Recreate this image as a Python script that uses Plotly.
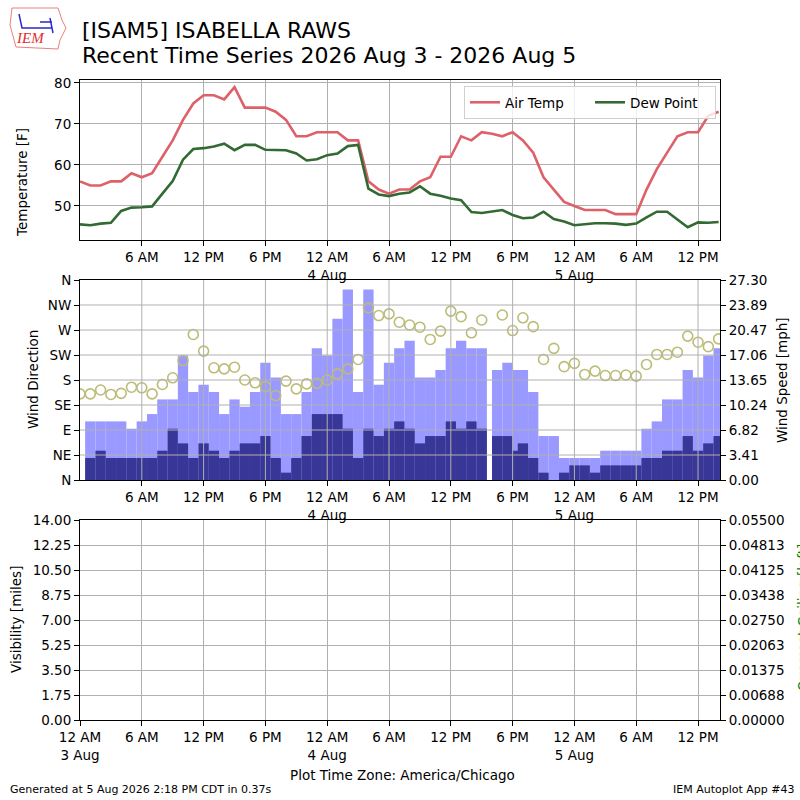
import pandas as pd
import plotly.graph_objects as go

# ISAM5 hourly obs, local time (America/Chicago)
OBS_START = "2026-08-03 00:00"
X_RANGE = ["2026-08-03 00:00", "2026-08-05 14:08"]

air_temp = [56, 55, 55, 56, 56, 58, 57, 58, 62, 66,
            71, 75, 77, 77, 76, 79, 74, 74, 74, 73,
            71, 67, 67, 68, 68, 68, 66, 66, 56, 54,
            53, 54, 54, 56, 57, 62, 62, 67, 66, 68,
            67.6, 67, 68, 66, 63, 57, 54, 51, 50, 49,
            49, 49, 48, 48, 48, 54, 59, 63, 67, 68,
            68, 72, 73]
dew_point = [45.5, 45.3, 45.7, 45.9, 48.8, 49.6, 49.7, 49.9, 53.0, 56.1,
             61.3, 63.9, 64.1, 64.5, 65.2, 63.6, 64.9, 64.9, 63.7, 63.6,
             63.6, 62.8, 61.1, 61.4, 62.4, 62.8, 64.6, 64.9, 54.2, 52.8,
             52.4, 53.0, 53.3, 54.8, 53.0, 52.5, 51.8, 51.4, 48.5, 48.3,
             48.6, 49.0, 47.8, 47.0, 47.2, 48.6, 46.8, 46.2, 45.3, 45.5,
             45.8, 45.8, 45.7, 45.4, 45.7, 47.2, 48.6, 48.6, 46.7, 44.8,
             46.0, 45.9, 46.1]
wind_dir = [155, 155, 162, 154, 156, 167, 166, 155, 172, 184,
            215, 262, 232, 202, 200, 203, 180, 175, 168, 152,
            178, 164, 173, 174, 180, 191, 200, 217, 310, 296,
            299, 284, 279, 275, 253, 268, 304, 294, 265, 288,
            None, 297, 269, 292, 276, 217, 237, 204, 210, 190,
            196, 188, 188, 189, 187, 208, 226, 226, 230, 259,
            248, 240, 254]

# wind bars (one per report)
gust_mph = [8, 8, 8, 8, 7, 8, 9, 11, 11, 17, 12, 13, 12, 9, 11, 10, 12, 16, 14, 9,
            9, 12, 18, 17, 22, 26, 12, 26, 13, 16, 18, 19, 14, 14, 15, 18, 19, 18, 18,
            15, 16, 15,
            15, 12, 6, 6, 3, 3, 3, 3, 4, 4, 4, 4, 7, 8, 11, 11, 15, 14, 17, 18]
speed_mph = [3, 4, 3, 3, 3, 3, 3, 4, 7, 5, 3, 5, 4, 3, 4, 5, 5, 6, 3, 1,
             3, 6, 9, 9, 9, 7, 3, 7, 6, 7, 8, 7, 5, 6, 6, 8, 7, 8, 7,
             6, 6, 4,
             5, 3, 1, 0, 1, 2, 2, 1, 2, 2, 2, 2, 3, 3, 4, 4, 6, 4, 5, 6]

obs_times = pd.date_range(OBS_START, periods=len(air_temp), freq="h")
bar_times = (
    list(pd.date_range("2026-08-03 01:00", "2026-08-04 15:00", freq="h"))
    + list(pd.to_datetime(["2026-08-04 16:30", "2026-08-04 17:30", "2026-08-04 18:30"]))
    + list(pd.date_range("2026-08-04 19:00", "2026-08-05 14:00", freq="h"))
)

tick_times = pd.date_range(OBS_START, periods=11, freq="6h")
tick_text = ["12 AM<br>3 Aug", "6 AM", "12 PM", "6 PM", "12 AM<br>4 Aug", "6 AM",
             "12 PM", "6 PM", "12 AM<br>5 Aug", "6 AM", "12 PM"]

dir_ticks = [0, 45, 90, 135, 180, 225, 270, 315, 360]
dir_labels = ["N", "NE", "E", "SE", "S", "SW", "W", "NW", "N"]
speed_ticks = [0, 3.4125, 6.825, 10.2375, 13.65, 17.0625, 20.475, 23.8875, 27.3]
speed_labels = ["0.00", "3.41", "6.82", "10.24", "13.65", "17.06", "20.47", "23.89", "27.30"]
vis_ticks = [0, 1.75, 3.5, 5.25, 7, 8.75, 10.5, 12.25, 14]
vis_labels = ["0.00", "1.75", "3.50", "5.25", "7.00", "8.75", "10.50", "12.25", "14.00"]
ceil_ticks = [0, 0.006875, 0.01375, 0.020625, 0.0275, 0.034375, 0.04125, 0.048125, 0.055]
ceil_labels = ["0.00000", "0.00688", "0.01375", "0.02063", "0.02750",
               "0.03438", "0.04125", "0.04813", "0.05500"]

HOUR_MS = 3600 * 1000
FONT = "DejaVu Sans"
TS = 13.5
GRID = "#b0b0b0"


def px(x):
    return (x - 80) / 640.0


def py(y):
    return (720 - y) / 640.0


fig = go.Figure()

fig.add_trace(go.Scatter(x=obs_times, y=air_temp, mode="lines", name="Air Temp",
                         line=dict(color="#de6169", width=2.6), xaxis="x", yaxis="y"))
fig.add_trace(go.Scatter(x=obs_times, y=dew_point, mode="lines", name="Dew Point",
                         line=dict(color="#336a33", width=2.6), xaxis="x", yaxis="y"))

fig.add_trace(go.Bar(x=bar_times, y=gust_mph, width=HOUR_MS, marker_color="#9999ff",
                     marker_line_width=0, showlegend=False, xaxis="x2", yaxis="y3"))
fig.add_trace(go.Bar(x=bar_times, y=speed_mph, width=HOUR_MS, marker_color="#383696",
                     marker_line_width=0, showlegend=False, xaxis="x2", yaxis="y3"))
fig.add_trace(go.Scatter(x=obs_times, y=wind_dir, mode="markers", showlegend=False,
                         marker=dict(symbol="circle-open", size=10, color="#bcbc78",
                                     line=dict(width=1.6)),
                         xaxis="x2", yaxis="y4"))

# empty bottom panel (visibility / ceiling)
fig.add_trace(go.Scatter(x=[], y=[], showlegend=False, xaxis="x3", yaxis="y5"))
fig.add_trace(go.Scatter(x=[], y=[], showlegend=False, xaxis="x3", yaxis="y6"))

ax_common = dict(showline=True, linecolor="black", linewidth=1, ticks="outside",
                 ticklen=5, tickcolor="black", zeroline=False,
                 tickfont=dict(family=FONT, size=TS, color="black"))

fig.update_layout(
    xaxis=dict(ax_common, type="date", domain=[0, 1], anchor="y", range=X_RANGE,
               mirror=True, tickvals=tick_times[1:], ticktext=tick_text[1:],
               showgrid=True, gridcolor=GRID),
    yaxis=dict(ax_common, domain=[0.75, 0.9995], anchor="x", range=[41.7, 80.65],
               mirror=True, tickvals=[50, 60, 70, 80], showgrid=True, gridcolor=GRID),
    xaxis2=dict(ax_common, type="date", domain=[0, 1], anchor="y3", range=X_RANGE,
                mirror=True, tickvals=tick_times[1:], ticktext=tick_text[1:],
                showgrid=False),
    yaxis3=dict(ax_common, domain=[0.375, 0.6875], anchor="x2", side="right",
                range=[0, 27.3], tickvals=speed_ticks, ticktext=speed_labels,
                showgrid=False),
    yaxis4=dict(ax_common, overlaying="y3", anchor="x2", side="left", range=[0, 360],
                tickvals=dir_ticks, ticktext=dir_labels, showgrid=False),
    xaxis3=dict(ax_common, type="date", domain=[0, 1], anchor="y5", range=X_RANGE,
                mirror=True, tickvals=tick_times, ticktext=tick_text, showgrid=True,
                gridcolor=GRID),
    yaxis5=dict(ax_common, type="linear", domain=[0, 0.3125], anchor="x3", side="left",
                range=[0, 14], tickvals=vis_ticks, ticktext=vis_labels, showgrid=True,
                gridcolor=GRID),
    yaxis6=dict(ax_common, type="linear", overlaying="y5", anchor="x3", side="right",
                range=[0, 0.055], tickvals=ceil_ticks, ticktext=ceil_labels,
                showgrid=False),
)

# grid of the wind panel sits over the bars
shapes = []
for d in dir_ticks[1:-1]:
    shapes.append(dict(type="line", xref="x2 domain", yref="y4", x0=0, x1=1, y0=d, y1=d,
                       line=dict(color=GRID, width=1), layer="above"))
for t in tick_times[1:]:
    shapes.append(dict(type="line", xref="x2", yref="y3 domain", x0=t, x1=t, y0=0, y1=1,
                       line=dict(color=GRID, width=1), layer="above"))

# IEM logo (rough)
shapes.append(dict(type="path", xref="paper", yref="paper",
                   path="M %f %f L %f %f L %f %f L %f %f L %f %f L %f %f L %f %f L %f %f Z" % (
                       px(12), py(8), px(58), py(8), px(62), py(20), px(66), py(28),
                       px(60), py(40), px(58), py(49), px(16), py(47), px(10), py(25)),
                   line=dict(color="#e88080", width=1), fillcolor="rgba(0,0,0,0)"))
shapes.append(dict(type="path", xref="paper", yref="paper",
                   path="M %f %f L %f %f L %f %f M %f %f L %f %f M %f %f L %f %f" % (
                       px(19), py(14), px(22), py(28), px(52), py(28),
                       px(40), py(22), px(52), py(22), px(50), py(18), px(53), py(33)),
                   line=dict(color="#2a2ad0", width=1.5)))

annos = [
    dict(text="[ISAM5] ISABELLA RAWS", x=px(80), y=py(30), xanchor="left",
         yanchor="middle", font=dict(size=22)),
    dict(text="Recent Time Series 2026 Aug 3 - 2026 Aug 5", x=px(80), y=py(56),
         xanchor="left", yanchor="middle", font=dict(size=22)),
    dict(text="IEM", x=px(30), y=py(38), xanchor="center", yanchor="middle",
         font=dict(family="Liberation Serif", size=15, color="#e03030", style="italic")),
    dict(text="Temperature [F]", x=px(22), y=py(183), textangle=-90,
         xanchor="center", yanchor="middle", font=dict(size=TS)),
    dict(text="Wind Direction", x=px(33), y=py(380), textangle=-90,
         xanchor="center", yanchor="middle", font=dict(size=TS)),
    dict(text="Wind Speed [mph]", x=px(782), y=py(380), textangle=-90,
         xanchor="center", yanchor="middle", font=dict(size=TS)),
    dict(text="Visibility [miles]", x=px(16), y=py(620), textangle=-90,
         xanchor="center", yanchor="middle", font=dict(size=TS)),
    # right label runs off the canvas edge, as in the original
    dict(text="Overcast Ceiling [k ft]", x=px(803), y=py(618), textangle=-90,
         xanchor="center", yanchor="middle", font=dict(size=TS, color="green")),
    dict(text="Plot Time Zone: America/Chicago", x=px(402), y=py(775),
         xanchor="center", yanchor="middle", font=dict(size=TS)),
    dict(text="Generated at 5 Aug 2026 2:18 PM CDT in 0.37s", x=px(8), y=py(789),
         xanchor="left", yanchor="middle", font=dict(size=11)),
    dict(text="IEM Autoplot App #43", x=px(797), y=py(789), xanchor="right",
         yanchor="middle", font=dict(size=11)),
]
for a in annos:
    a.update(xref="paper", yref="paper", showarrow=False)

fig.update_layout(
    width=800, height=800, autosize=False,
    margin=dict(l=80, r=80, t=80, b=80),
    paper_bgcolor="white", plot_bgcolor="white",
    font=dict(family=FONT, size=TS, color="black"),
    barmode="overlay",
    shapes=shapes, annotations=annos,
    legend=dict(orientation="h", x=px(716), y=py(86), xanchor="right", yanchor="top",
                entrywidth=80, itemwidth=30,
                bgcolor="rgba(255,255,255,0.8)", bordercolor="#d0d0d0", borderwidth=1,
                font=dict(family=FONT, size=TS)),
)

# page body has a default 8px margin; drop it so the figure fills the window
fig.write_html("out.html", config={"displayModeBar": False},
               post_script="document.body.style.margin='0';")
